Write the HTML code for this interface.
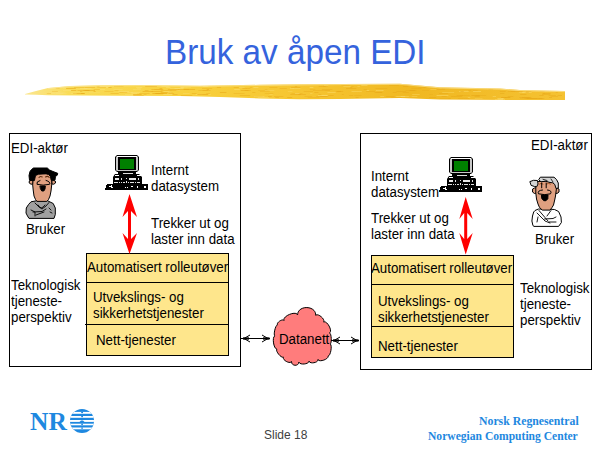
<!DOCTYPE html>
<html><head><meta charset="utf-8">
<style>
html,body{margin:0;padding:0;width:600px;height:450px;overflow:hidden;background:#fff;}
body{position:relative;font-family:"Liberation Sans",sans-serif;color:#000;}
.a{position:absolute;white-space:nowrap;font-size:13px;line-height:16px;}
.t{font-size:14px;line-height:16px;transform:scaleX(0.95);transform-origin:0 0;}
svg{position:absolute;left:0;top:0;}
</style></head><body>
<svg width="600" height="450" viewBox="0 0 600 450">
<defs>

</defs>
<!-- brush stroke -->
<linearGradient id="brush" x1="25" y1="0" x2="565" y2="0" gradientUnits="userSpaceOnUse"><stop offset="0" stop-color="#fbe690"/><stop offset="0.08" stop-color="#f9dc58"/><stop offset="0.3" stop-color="#f8d03c"/><stop offset="0.5" stop-color="#f6c632"/><stop offset="0.72" stop-color="#f0b822"/><stop offset="1" stop-color="#f5c232"/></linearGradient>
<path d="M25,94 L36,91 L48,88 L70,86 L100,85.3 L140,85 L200,85.7 L260,84.8 L300,84.3 L340,84 L400,83.7 L440,87.3 L500,88.5 L520,90 L565,91 L565,100 L520,100 L440,99.5 L400,98 L340,99 L300,99.3 L260,98.5 L220,97 L180,96 L120,95.8 L80,95.5 L48,95.3 L36,94.7 L25,94.5 Z" fill="url(#brush)"/>
<g stroke-width="1"><line x1="163.7" y1="91.5" x2="169.4" y2="91.5" stroke="#fde27a" stroke-opacity="0.41"/><line x1="74.1" y1="87.5" x2="84.4" y2="87.5" stroke="#e8a818" stroke-opacity="0.37"/><line x1="557.7" y1="95.5" x2="562.0" y2="95.5" stroke="#e8a818" stroke-opacity="0.49"/><line x1="118.3" y1="91.5" x2="129.0" y2="91.5" stroke="#fde27a" stroke-opacity="0.44"/><line x1="389.1" y1="85.5" x2="398.7" y2="85.5" stroke="#e8a818" stroke-opacity="0.39"/><line x1="56.1" y1="93.5" x2="62.9" y2="93.5" stroke="#fde27a" stroke-opacity="0.47"/><line x1="411.3" y1="96.5" x2="417.3" y2="96.5" stroke="#fde27a" stroke-opacity="0.36"/><line x1="526.5" y1="98.5" x2="529.5" y2="98.5" stroke="#e8a818" stroke-opacity="0.37"/><line x1="542.0" y1="94.5" x2="550.3" y2="94.5" stroke="#e8a818" stroke-opacity="0.45"/><line x1="240.7" y1="90.5" x2="248.5" y2="90.5" stroke="#e8a818" stroke-opacity="0.57"/><line x1="394.6" y1="96.5" x2="405.2" y2="96.5" stroke="#fde27a" stroke-opacity="0.42"/><line x1="124.8" y1="94.5" x2="136.5" y2="94.5" stroke="#fde27a" stroke-opacity="0.39"/><line x1="411.2" y1="88.5" x2="421.5" y2="88.5" stroke="#e8a818" stroke-opacity="0.39"/><line x1="73.0" y1="93.5" x2="84.9" y2="93.5" stroke="#e8a818" stroke-opacity="0.54"/><line x1="253.4" y1="87.5" x2="258.4" y2="87.5" stroke="#fde27a" stroke-opacity="0.47"/><line x1="63.0" y1="92.5" x2="65.4" y2="92.5" stroke="#fde27a" stroke-opacity="0.33"/><line x1="498.1" y1="99.5" x2="505.1" y2="99.5" stroke="#fde27a" stroke-opacity="0.33"/><line x1="80.0" y1="91.5" x2="82.3" y2="91.5" stroke="#e8a818" stroke-opacity="0.42"/><line x1="357.4" y1="86.5" x2="359.9" y2="86.5" stroke="#fde27a" stroke-opacity="0.33"/><line x1="538.5" y1="98.5" x2="544.3" y2="98.5" stroke="#e8a818" stroke-opacity="0.46"/><line x1="374.8" y1="92.5" x2="382.4" y2="92.5" stroke="#e8a818" stroke-opacity="0.58"/><line x1="303.7" y1="91.5" x2="312.9" y2="91.5" stroke="#e8a818" stroke-opacity="0.39"/><line x1="548.5" y1="95.5" x2="555.9" y2="95.5" stroke="#e8a818" stroke-opacity="0.42"/><line x1="341.6" y1="85.5" x2="349.7" y2="85.5" stroke="#e8a818" stroke-opacity="0.32"/><line x1="366.2" y1="91.5" x2="375.0" y2="91.5" stroke="#e8a818" stroke-opacity="0.51"/><line x1="423.8" y1="87.5" x2="426.4" y2="87.5" stroke="#e8a818" stroke-opacity="0.59"/><line x1="170.6" y1="90.5" x2="178.5" y2="90.5" stroke="#e8a818" stroke-opacity="0.41"/><line x1="202.6" y1="90.5" x2="210.5" y2="90.5" stroke="#e8a818" stroke-opacity="0.41"/><line x1="441.6" y1="88.5" x2="449.3" y2="88.5" stroke="#e8a818" stroke-opacity="0.39"/><line x1="155.7" y1="93.5" x2="160.1" y2="93.5" stroke="#e8a818" stroke-opacity="0.43"/><line x1="403.0" y1="86.5" x2="408.2" y2="86.5" stroke="#e8a818" stroke-opacity="0.55"/><line x1="268.0" y1="96.5" x2="271.7" y2="96.5" stroke="#e8a818" stroke-opacity="0.50"/><line x1="500.1" y1="93.5" x2="504.4" y2="93.5" stroke="#e8a818" stroke-opacity="0.46"/><line x1="139.2" y1="93.5" x2="149.6" y2="93.5" stroke="#e8a818" stroke-opacity="0.38"/><line x1="459.8" y1="95.5" x2="469.8" y2="95.5" stroke="#e8a818" stroke-opacity="0.34"/><line x1="191.8" y1="93.5" x2="196.5" y2="93.5" stroke="#e8a818" stroke-opacity="0.43"/><line x1="258.3" y1="90.5" x2="269.5" y2="90.5" stroke="#e8a818" stroke-opacity="0.30"/><line x1="530.5" y1="98.5" x2="542.4" y2="98.5" stroke="#e8a818" stroke-opacity="0.59"/><line x1="522.2" y1="92.5" x2="531.7" y2="92.5" stroke="#fde27a" stroke-opacity="0.42"/><line x1="309.9" y1="89.5" x2="315.3" y2="89.5" stroke="#e8a818" stroke-opacity="0.32"/><line x1="346.1" y1="88.5" x2="356.2" y2="88.5" stroke="#e8a818" stroke-opacity="0.57"/><line x1="400.7" y1="96.5" x2="411.7" y2="96.5" stroke="#fde27a" stroke-opacity="0.39"/><line x1="46.8" y1="93.5" x2="50.6" y2="93.5" stroke="#e8a818" stroke-opacity="0.50"/><line x1="313.0" y1="90.5" x2="324.4" y2="90.5" stroke="#e8a818" stroke-opacity="0.40"/><line x1="171.3" y1="94.5" x2="178.1" y2="94.5" stroke="#fde27a" stroke-opacity="0.34"/><line x1="142.6" y1="91.5" x2="152.8" y2="91.5" stroke="#e8a818" stroke-opacity="0.54"/><line x1="519.3" y1="97.5" x2="529.6" y2="97.5" stroke="#e8a818" stroke-opacity="0.49"/><line x1="488.5" y1="89.5" x2="493.2" y2="89.5" stroke="#e8a818" stroke-opacity="0.46"/><line x1="260.0" y1="91.5" x2="269.7" y2="91.5" stroke="#e8a818" stroke-opacity="0.32"/><line x1="106.0" y1="87.5" x2="108.7" y2="87.5" stroke="#fde27a" stroke-opacity="0.46"/><line x1="84.8" y1="90.5" x2="89.9" y2="90.5" stroke="#e8a818" stroke-opacity="0.41"/><line x1="376.4" y1="92.5" x2="382.0" y2="92.5" stroke="#e8a818" stroke-opacity="0.40"/><line x1="104.4" y1="91.5" x2="113.5" y2="91.5" stroke="#e8a818" stroke-opacity="0.32"/><line x1="132.8" y1="89.5" x2="140.9" y2="89.5" stroke="#fde27a" stroke-opacity="0.35"/><line x1="456.6" y1="95.5" x2="462.9" y2="95.5" stroke="#e8a818" stroke-opacity="0.45"/><line x1="405.5" y1="90.5" x2="414.4" y2="90.5" stroke="#e8a818" stroke-opacity="0.37"/><line x1="318.6" y1="94.5" x2="321.4" y2="94.5" stroke="#e8a818" stroke-opacity="0.43"/><line x1="497.4" y1="98.5" x2="503.2" y2="98.5" stroke="#fde27a" stroke-opacity="0.45"/><line x1="176.3" y1="90.5" x2="179.6" y2="90.5" stroke="#fde27a" stroke-opacity="0.42"/><line x1="501.4" y1="97.5" x2="510.1" y2="97.5" stroke="#e8a818" stroke-opacity="0.47"/><line x1="93.6" y1="91.5" x2="95.7" y2="91.5" stroke="#e8a818" stroke-opacity="0.53"/><line x1="63.0" y1="88.5" x2="66.0" y2="88.5" stroke="#fde27a" stroke-opacity="0.29"/><line x1="52.2" y1="93.5" x2="55.4" y2="93.5" stroke="#fde27a" stroke-opacity="0.42"/><line x1="474.8" y1="98.5" x2="482.6" y2="98.5" stroke="#fde27a" stroke-opacity="0.26"/><line x1="439.1" y1="93.5" x2="448.2" y2="93.5" stroke="#e8a818" stroke-opacity="0.52"/><line x1="526.0" y1="91.5" x2="531.2" y2="91.5" stroke="#e8a818" stroke-opacity="0.55"/><line x1="165.9" y1="87.5" x2="170.4" y2="87.5" stroke="#fde27a" stroke-opacity="0.44"/><line x1="244.7" y1="90.5" x2="250.7" y2="90.5" stroke="#e8a818" stroke-opacity="0.43"/><line x1="83.3" y1="90.5" x2="95.0" y2="90.5" stroke="#e8a818" stroke-opacity="0.52"/><line x1="123.5" y1="92.5" x2="133.1" y2="92.5" stroke="#fde27a" stroke-opacity="0.38"/><line x1="291.5" y1="93.5" x2="302.5" y2="93.5" stroke="#e8a818" stroke-opacity="0.33"/><line x1="429.0" y1="97.5" x2="436.2" y2="97.5" stroke="#e8a818" stroke-opacity="0.52"/><line x1="136.8" y1="88.5" x2="140.8" y2="88.5" stroke="#fde27a" stroke-opacity="0.33"/><line x1="160.8" y1="92.5" x2="172.3" y2="92.5" stroke="#e8a818" stroke-opacity="0.51"/><line x1="254.9" y1="96.5" x2="262.7" y2="96.5" stroke="#e8a818" stroke-opacity="0.37"/><line x1="52.0" y1="91.5" x2="57.9" y2="91.5" stroke="#e8a818" stroke-opacity="0.41"/><line x1="207.5" y1="94.5" x2="210.9" y2="94.5" stroke="#fde27a" stroke-opacity="0.37"/><line x1="351.5" y1="91.5" x2="361.8" y2="91.5" stroke="#fde27a" stroke-opacity="0.39"/><line x1="290.3" y1="94.5" x2="300.8" y2="94.5" stroke="#e8a818" stroke-opacity="0.52"/><line x1="539.3" y1="95.5" x2="543.6" y2="95.5" stroke="#e8a818" stroke-opacity="0.52"/><line x1="391.2" y1="97.5" x2="401.7" y2="97.5" stroke="#e8a818" stroke-opacity="0.36"/><line x1="174.5" y1="88.5" x2="183.5" y2="88.5" stroke="#fde27a" stroke-opacity="0.47"/><line x1="172.6" y1="94.5" x2="177.7" y2="94.5" stroke="#e8a818" stroke-opacity="0.52"/><line x1="84.7" y1="87.5" x2="95.0" y2="87.5" stroke="#e8a818" stroke-opacity="0.41"/><line x1="341.8" y1="94.5" x2="343.8" y2="94.5" stroke="#e8a818" stroke-opacity="0.43"/><line x1="292.7" y1="88.5" x2="300.5" y2="88.5" stroke="#fde27a" stroke-opacity="0.35"/><line x1="323.1" y1="86.5" x2="327.8" y2="86.5" stroke="#e8a818" stroke-opacity="0.33"/><line x1="501.3" y1="98.5" x2="504.3" y2="98.5" stroke="#fde27a" stroke-opacity="0.34"/><line x1="441.7" y1="96.5" x2="446.6" y2="96.5" stroke="#e8a818" stroke-opacity="0.50"/><line x1="459.1" y1="91.5" x2="468.7" y2="91.5" stroke="#fde27a" stroke-opacity="0.42"/><line x1="318.8" y1="86.5" x2="325.7" y2="86.5" stroke="#e8a818" stroke-opacity="0.52"/><line x1="392.8" y1="92.5" x2="396.7" y2="92.5" stroke="#e8a818" stroke-opacity="0.49"/><line x1="133.1" y1="94.5" x2="141.7" y2="94.5" stroke="#e8a818" stroke-opacity="0.58"/><line x1="113.5" y1="89.5" x2="122.7" y2="89.5" stroke="#fde27a" stroke-opacity="0.39"/><line x1="376.7" y1="90.5" x2="381.8" y2="90.5" stroke="#e8a818" stroke-opacity="0.32"/><line x1="412.2" y1="94.5" x2="419.7" y2="94.5" stroke="#fde27a" stroke-opacity="0.34"/><line x1="178.2" y1="89.5" x2="189.0" y2="89.5" stroke="#e8a818" stroke-opacity="0.45"/><line x1="168.5" y1="93.5" x2="174.1" y2="93.5" stroke="#e8a818" stroke-opacity="0.42"/><line x1="321.6" y1="95.5" x2="327.1" y2="95.5" stroke="#fde27a" stroke-opacity="0.28"/><line x1="180.7" y1="87.5" x2="183.8" y2="87.5" stroke="#fde27a" stroke-opacity="0.43"/><line x1="136.1" y1="87.5" x2="142.3" y2="87.5" stroke="#fde27a" stroke-opacity="0.45"/><line x1="429.3" y1="94.5" x2="432.8" y2="94.5" stroke="#e8a818" stroke-opacity="0.36"/><line x1="314.4" y1="92.5" x2="318.4" y2="92.5" stroke="#e8a818" stroke-opacity="0.53"/><line x1="55.6" y1="93.5" x2="66.6" y2="93.5" stroke="#fde27a" stroke-opacity="0.35"/><line x1="327.4" y1="92.5" x2="335.7" y2="92.5" stroke="#fde27a" stroke-opacity="0.42"/><line x1="195.7" y1="94.5" x2="202.5" y2="94.5" stroke="#fde27a" stroke-opacity="0.43"/><line x1="41.2" y1="93.5" x2="49.9" y2="93.5" stroke="#fde27a" stroke-opacity="0.38"/><line x1="279.5" y1="88.5" x2="286.8" y2="88.5" stroke="#e8a818" stroke-opacity="0.45"/><line x1="375.9" y1="90.5" x2="383.6" y2="90.5" stroke="#fde27a" stroke-opacity="0.47"/><line x1="110.5" y1="93.5" x2="118.7" y2="93.5" stroke="#e8a818" stroke-opacity="0.41"/><line x1="161.4" y1="86.5" x2="168.8" y2="86.5" stroke="#fde27a" stroke-opacity="0.33"/><line x1="492.7" y1="96.5" x2="496.0" y2="96.5" stroke="#fde27a" stroke-opacity="0.40"/><line x1="522.0" y1="97.5" x2="531.4" y2="97.5" stroke="#e8a818" stroke-opacity="0.54"/><line x1="524.5" y1="98.5" x2="530.9" y2="98.5" stroke="#e8a818" stroke-opacity="0.45"/><line x1="96.7" y1="86.5" x2="99.5" y2="86.5" stroke="#e8a818" stroke-opacity="0.35"/><line x1="298.5" y1="94.5" x2="305.9" y2="94.5" stroke="#e8a818" stroke-opacity="0.49"/><line x1="198.4" y1="90.5" x2="208.0" y2="90.5" stroke="#e8a818" stroke-opacity="0.35"/><line x1="507.7" y1="96.5" x2="513.4" y2="96.5" stroke="#e8a818" stroke-opacity="0.46"/><line x1="350.2" y1="87.5" x2="352.2" y2="87.5" stroke="#e8a818" stroke-opacity="0.53"/><line x1="114.6" y1="90.5" x2="118.6" y2="90.5" stroke="#e8a818" stroke-opacity="0.35"/><line x1="249.9" y1="87.5" x2="252.2" y2="87.5" stroke="#e8a818" stroke-opacity="0.35"/><line x1="294.9" y1="86.5" x2="297.2" y2="86.5" stroke="#e8a818" stroke-opacity="0.42"/><line x1="405.8" y1="85.5" x2="411.8" y2="85.5" stroke="#e8a818" stroke-opacity="0.31"/><line x1="542.1" y1="93.5" x2="545.0" y2="93.5" stroke="#e8a818" stroke-opacity="0.35"/><line x1="363.7" y1="89.5" x2="366.9" y2="89.5" stroke="#e8a818" stroke-opacity="0.52"/><line x1="183.0" y1="93.5" x2="189.7" y2="93.5" stroke="#fde27a" stroke-opacity="0.33"/><line x1="170.0" y1="88.5" x2="180.1" y2="88.5" stroke="#fde27a" stroke-opacity="0.34"/><line x1="88.7" y1="92.5" x2="100.4" y2="92.5" stroke="#fde27a" stroke-opacity="0.25"/><line x1="55.8" y1="88.5" x2="59.5" y2="88.5" stroke="#e8a818" stroke-opacity="0.32"/><line x1="380.2" y1="96.5" x2="384.2" y2="96.5" stroke="#fde27a" stroke-opacity="0.37"/><line x1="457.9" y1="98.5" x2="469.3" y2="98.5" stroke="#e8a818" stroke-opacity="0.39"/><line x1="355.6" y1="97.5" x2="358.5" y2="97.5" stroke="#e8a818" stroke-opacity="0.55"/><line x1="99.6" y1="89.5" x2="105.0" y2="89.5" stroke="#fde27a" stroke-opacity="0.48"/><line x1="130.8" y1="92.5" x2="140.1" y2="92.5" stroke="#fde27a" stroke-opacity="0.39"/><line x1="520.2" y1="94.5" x2="526.4" y2="94.5" stroke="#e8a818" stroke-opacity="0.53"/><line x1="289.9" y1="88.5" x2="293.6" y2="88.5" stroke="#fde27a" stroke-opacity="0.40"/><line x1="409.5" y1="90.5" x2="416.4" y2="90.5" stroke="#e8a818" stroke-opacity="0.51"/><line x1="51.9" y1="91.5" x2="61.5" y2="91.5" stroke="#fde27a" stroke-opacity="0.27"/><line x1="163.3" y1="94.5" x2="171.8" y2="94.5" stroke="#fde27a" stroke-opacity="0.47"/><line x1="274.0" y1="96.5" x2="283.3" y2="96.5" stroke="#e8a818" stroke-opacity="0.41"/><line x1="77.5" y1="90.5" x2="89.0" y2="90.5" stroke="#e8a818" stroke-opacity="0.47"/><line x1="97.3" y1="87.5" x2="105.8" y2="87.5" stroke="#e8a818" stroke-opacity="0.31"/><line x1="119.4" y1="92.5" x2="127.2" y2="92.5" stroke="#e8a818" stroke-opacity="0.37"/><line x1="543.0" y1="93.5" x2="550.6" y2="93.5" stroke="#e8a818" stroke-opacity="0.53"/><line x1="354.3" y1="95.5" x2="361.6" y2="95.5" stroke="#e8a818" stroke-opacity="0.35"/><line x1="81.1" y1="93.5" x2="84.3" y2="93.5" stroke="#e8a818" stroke-opacity="0.59"/><line x1="143.6" y1="94.5" x2="146.5" y2="94.5" stroke="#e8a818" stroke-opacity="0.37"/><line x1="471.3" y1="95.5" x2="479.7" y2="95.5" stroke="#e8a818" stroke-opacity="0.56"/><line x1="219.9" y1="92.5" x2="226.4" y2="92.5" stroke="#e8a818" stroke-opacity="0.55"/><line x1="349.1" y1="95.5" x2="353.1" y2="95.5" stroke="#e8a818" stroke-opacity="0.44"/><line x1="418.6" y1="87.5" x2="424.0" y2="87.5" stroke="#e8a818" stroke-opacity="0.32"/><line x1="327.4" y1="95.5" x2="333.6" y2="95.5" stroke="#e8a818" stroke-opacity="0.48"/><line x1="151.4" y1="89.5" x2="163.3" y2="89.5" stroke="#e8a818" stroke-opacity="0.43"/><line x1="83.8" y1="88.5" x2="87.4" y2="88.5" stroke="#fde27a" stroke-opacity="0.43"/><line x1="494.9" y1="99.5" x2="503.0" y2="99.5" stroke="#fde27a" stroke-opacity="0.38"/><line x1="257.7" y1="97.5" x2="268.8" y2="97.5" stroke="#fde27a" stroke-opacity="0.37"/><line x1="442.2" y1="92.5" x2="454.2" y2="92.5" stroke="#fde27a" stroke-opacity="0.32"/><line x1="525.8" y1="92.5" x2="528.7" y2="92.5" stroke="#e8a818" stroke-opacity="0.39"/><line x1="310.1" y1="93.5" x2="312.5" y2="93.5" stroke="#fde27a" stroke-opacity="0.32"/><line x1="264.8" y1="90.5" x2="274.3" y2="90.5" stroke="#fde27a" stroke-opacity="0.32"/><line x1="93.7" y1="89.5" x2="99.9" y2="89.5" stroke="#e8a818" stroke-opacity="0.35"/><line x1="436.6" y1="95.5" x2="448.4" y2="95.5" stroke="#fde27a" stroke-opacity="0.47"/><line x1="233.7" y1="87.5" x2="238.9" y2="87.5" stroke="#e8a818" stroke-opacity="0.46"/><line x1="321.9" y1="89.5" x2="332.4" y2="89.5" stroke="#e8a818" stroke-opacity="0.44"/><line x1="501.1" y1="97.5" x2="506.1" y2="97.5" stroke="#e8a818" stroke-opacity="0.54"/><line x1="45.2" y1="90.5" x2="52.5" y2="90.5" stroke="#fde27a" stroke-opacity="0.29"/><line x1="66.1" y1="88.5" x2="75.8" y2="88.5" stroke="#e8a818" stroke-opacity="0.59"/><line x1="448.5" y1="98.5" x2="450.8" y2="98.5" stroke="#e8a818" stroke-opacity="0.30"/><line x1="264.8" y1="89.5" x2="267.3" y2="89.5" stroke="#e8a818" stroke-opacity="0.33"/><line x1="202.0" y1="88.5" x2="212.1" y2="88.5" stroke="#e8a818" stroke-opacity="0.38"/><line x1="62.9" y1="90.5" x2="71.2" y2="90.5" stroke="#fde27a" stroke-opacity="0.48"/><line x1="460.5" y1="91.5" x2="463.8" y2="91.5" stroke="#e8a818" stroke-opacity="0.54"/><line x1="304.6" y1="96.5" x2="312.1" y2="96.5" stroke="#e8a818" stroke-opacity="0.35"/><line x1="48.9" y1="92.5" x2="59.8" y2="92.5" stroke="#fde27a" stroke-opacity="0.37"/><line x1="386.1" y1="96.5" x2="396.2" y2="96.5" stroke="#e8a818" stroke-opacity="0.42"/><line x1="309.6" y1="87.5" x2="313.4" y2="87.5" stroke="#fde27a" stroke-opacity="0.50"/><line x1="324.5" y1="90.5" x2="330.0" y2="90.5" stroke="#e8a818" stroke-opacity="0.54"/><line x1="275.3" y1="97.5" x2="278.9" y2="97.5" stroke="#e8a818" stroke-opacity="0.46"/><line x1="254.2" y1="96.5" x2="264.5" y2="96.5" stroke="#fde27a" stroke-opacity="0.40"/><line x1="55.9" y1="92.5" x2="63.4" y2="92.5" stroke="#fde27a" stroke-opacity="0.32"/><line x1="408.9" y1="96.5" x2="411.9" y2="96.5" stroke="#e8a818" stroke-opacity="0.41"/><line x1="307.7" y1="97.5" x2="319.3" y2="97.5" stroke="#e8a818" stroke-opacity="0.36"/><line x1="518.8" y1="92.5" x2="524.6" y2="92.5" stroke="#fde27a" stroke-opacity="0.33"/><line x1="180.9" y1="95.5" x2="192.3" y2="95.5" stroke="#e8a818" stroke-opacity="0.42"/><line x1="186.6" y1="87.5" x2="191.1" y2="87.5" stroke="#fde27a" stroke-opacity="0.27"/><line x1="159.5" y1="88.5" x2="162.3" y2="88.5" stroke="#e8a818" stroke-opacity="0.52"/><line x1="475.9" y1="95.5" x2="486.1" y2="95.5" stroke="#e8a818" stroke-opacity="0.38"/><line x1="539.8" y1="91.5" x2="544.5" y2="91.5" stroke="#e8a818" stroke-opacity="0.38"/><line x1="324.0" y1="85.5" x2="328.3" y2="85.5" stroke="#fde27a" stroke-opacity="0.29"/><line x1="510.9" y1="91.5" x2="522.8" y2="91.5" stroke="#e8a818" stroke-opacity="0.49"/><line x1="114.0" y1="86.5" x2="123.5" y2="86.5" stroke="#e8a818" stroke-opacity="0.36"/><line x1="467.8" y1="97.5" x2="470.3" y2="97.5" stroke="#fde27a" stroke-opacity="0.38"/><line x1="238.8" y1="87.5" x2="244.7" y2="87.5" stroke="#fde27a" stroke-opacity="0.32"/><line x1="108.3" y1="87.5" x2="111.6" y2="87.5" stroke="#e8a818" stroke-opacity="0.57"/><line x1="80.0" y1="88.5" x2="91.4" y2="88.5" stroke="#fde27a" stroke-opacity="0.49"/><line x1="167.9" y1="89.5" x2="179.4" y2="89.5" stroke="#e8a818" stroke-opacity="0.51"/><line x1="202.9" y1="86.5" x2="208.4" y2="86.5" stroke="#fde27a" stroke-opacity="0.45"/><line x1="335.8" y1="91.5" x2="343.2" y2="91.5" stroke="#e8a818" stroke-opacity="0.46"/><line x1="473.1" y1="91.5" x2="481.1" y2="91.5" stroke="#fde27a" stroke-opacity="0.46"/><line x1="133.3" y1="95.5" x2="143.7" y2="95.5" stroke="#e8a818" stroke-opacity="0.38"/><line x1="145.2" y1="86.5" x2="157.0" y2="86.5" stroke="#e8a818" stroke-opacity="0.56"/><line x1="99.6" y1="86.5" x2="110.3" y2="86.5" stroke="#fde27a" stroke-opacity="0.50"/><line x1="396.4" y1="91.5" x2="406.1" y2="91.5" stroke="#e8a818" stroke-opacity="0.46"/><line x1="269.4" y1="87.5" x2="277.4" y2="87.5" stroke="#e8a818" stroke-opacity="0.45"/><line x1="234.2" y1="89.5" x2="239.8" y2="89.5" stroke="#fde27a" stroke-opacity="0.50"/><line x1="526.8" y1="98.5" x2="537.2" y2="98.5" stroke="#e8a818" stroke-opacity="0.59"/><line x1="180.3" y1="87.5" x2="187.3" y2="87.5" stroke="#fde27a" stroke-opacity="0.34"/><line x1="375.5" y1="88.5" x2="387.2" y2="88.5" stroke="#e8a818" stroke-opacity="0.44"/><line x1="316.3" y1="96.5" x2="328.2" y2="96.5" stroke="#e8a818" stroke-opacity="0.43"/><line x1="361.3" y1="85.5" x2="367.5" y2="85.5" stroke="#fde27a" stroke-opacity="0.44"/><line x1="70.9" y1="93.5" x2="76.7" y2="93.5" stroke="#fde27a" stroke-opacity="0.34"/><line x1="151.6" y1="91.5" x2="162.5" y2="91.5" stroke="#e8a818" stroke-opacity="0.56"/><line x1="409.9" y1="90.5" x2="414.9" y2="90.5" stroke="#e8a818" stroke-opacity="0.42"/><line x1="233.7" y1="93.5" x2="244.5" y2="93.5" stroke="#e8a818" stroke-opacity="0.34"/><line x1="154.4" y1="89.5" x2="162.5" y2="89.5" stroke="#e8a818" stroke-opacity="0.32"/><line x1="206.7" y1="89.5" x2="209.0" y2="89.5" stroke="#e8a818" stroke-opacity="0.58"/><line x1="317.9" y1="95.5" x2="328.2" y2="95.5" stroke="#fde27a" stroke-opacity="0.48"/><line x1="269.5" y1="94.5" x2="272.7" y2="94.5" stroke="#fde27a" stroke-opacity="0.34"/><line x1="287.2" y1="97.5" x2="292.1" y2="97.5" stroke="#e8a818" stroke-opacity="0.55"/><line x1="351.4" y1="86.5" x2="353.7" y2="86.5" stroke="#e8a818" stroke-opacity="0.30"/><line x1="472.9" y1="90.5" x2="477.6" y2="90.5" stroke="#e8a818" stroke-opacity="0.45"/><line x1="264.8" y1="93.5" x2="273.4" y2="93.5" stroke="#e8a818" stroke-opacity="0.33"/><line x1="549.1" y1="97.5" x2="552.0" y2="97.5" stroke="#e8a818" stroke-opacity="0.53"/><line x1="555.7" y1="92.5" x2="557.8" y2="92.5" stroke="#e8a818" stroke-opacity="0.43"/><line x1="505.1" y1="97.5" x2="510.4" y2="97.5" stroke="#e8a818" stroke-opacity="0.47"/><line x1="499.8" y1="91.5" x2="505.7" y2="91.5" stroke="#e8a818" stroke-opacity="0.49"/><line x1="53.8" y1="94.5" x2="61.0" y2="94.5" stroke="#fde27a" stroke-opacity="0.27"/><line x1="160.8" y1="90.5" x2="171.3" y2="90.5" stroke="#e8a818" stroke-opacity="0.39"/><line x1="550.7" y1="96.5" x2="558.0" y2="96.5" stroke="#e8a818" stroke-opacity="0.39"/><line x1="507.9" y1="91.5" x2="515.2" y2="91.5" stroke="#e8a818" stroke-opacity="0.41"/><line x1="439.7" y1="98.5" x2="450.3" y2="98.5" stroke="#e8a818" stroke-opacity="0.36"/><line x1="71.1" y1="90.5" x2="76.3" y2="90.5" stroke="#e8a818" stroke-opacity="0.56"/><line x1="152.4" y1="93.5" x2="163.7" y2="93.5" stroke="#e8a818" stroke-opacity="0.57"/><line x1="246.5" y1="88.5" x2="250.4" y2="88.5" stroke="#e8a818" stroke-opacity="0.45"/><line x1="239.8" y1="95.5" x2="250.2" y2="95.5" stroke="#e8a818" stroke-opacity="0.42"/><line x1="242.4" y1="88.5" x2="246.9" y2="88.5" stroke="#e8a818" stroke-opacity="0.51"/><line x1="216.9" y1="87.5" x2="221.1" y2="87.5" stroke="#e8a818" stroke-opacity="0.47"/><line x1="167.7" y1="92.5" x2="171.8" y2="92.5" stroke="#fde27a" stroke-opacity="0.40"/><line x1="131.4" y1="93.5" x2="137.3" y2="93.5" stroke="#fde27a" stroke-opacity="0.40"/><line x1="366.6" y1="90.5" x2="369.2" y2="90.5" stroke="#fde27a" stroke-opacity="0.46"/><line x1="294.9" y1="93.5" x2="299.6" y2="93.5" stroke="#fde27a" stroke-opacity="0.42"/><line x1="155.4" y1="93.5" x2="167.2" y2="93.5" stroke="#e8a818" stroke-opacity="0.60"/><line x1="291.2" y1="87.5" x2="300.4" y2="87.5" stroke="#e8a818" stroke-opacity="0.52"/><line x1="343.4" y1="86.5" x2="350.7" y2="86.5" stroke="#fde27a" stroke-opacity="0.37"/><line x1="320.4" y1="96.5" x2="326.9" y2="96.5" stroke="#e8a818" stroke-opacity="0.47"/><line x1="468.4" y1="90.5" x2="471.3" y2="90.5" stroke="#e8a818" stroke-opacity="0.47"/><line x1="197.4" y1="94.5" x2="208.3" y2="94.5" stroke="#e8a818" stroke-opacity="0.60"/><line x1="474.7" y1="96.5" x2="479.6" y2="96.5" stroke="#e8a818" stroke-opacity="0.50"/><line x1="422.3" y1="90.5" x2="429.0" y2="90.5" stroke="#e8a818" stroke-opacity="0.37"/><line x1="402.8" y1="92.5" x2="408.6" y2="92.5" stroke="#e8a818" stroke-opacity="0.47"/><line x1="206.2" y1="93.5" x2="210.0" y2="93.5" stroke="#e8a818" stroke-opacity="0.36"/><line x1="252.3" y1="92.5" x2="255.4" y2="92.5" stroke="#e8a818" stroke-opacity="0.44"/><line x1="144.8" y1="90.5" x2="148.5" y2="90.5" stroke="#e8a818" stroke-opacity="0.46"/><line x1="520.1" y1="98.5" x2="527.2" y2="98.5" stroke="#e8a818" stroke-opacity="0.32"/><line x1="183.7" y1="89.5" x2="195.1" y2="89.5" stroke="#e8a818" stroke-opacity="0.58"/><line x1="287.9" y1="91.5" x2="292.5" y2="91.5" stroke="#fde27a" stroke-opacity="0.30"/><line x1="337.1" y1="91.5" x2="341.1" y2="91.5" stroke="#e8a818" stroke-opacity="0.60"/><line x1="451.2" y1="96.5" x2="462.2" y2="96.5" stroke="#e8a818" stroke-opacity="0.51"/><line x1="430.3" y1="89.5" x2="436.8" y2="89.5" stroke="#fde27a" stroke-opacity="0.33"/><line x1="436.4" y1="89.5" x2="445.1" y2="89.5" stroke="#e8a818" stroke-opacity="0.45"/></g>
<path d="M48,88.6 L70,86.6 L100,85.9 L140,85.6 L200,86.3 L260,85.4 L300,84.9 L340,84.6 L400,84.3 L440,87.9 L500,89.1 L520,90.6 L565,91.6" stroke="#fce7a0" stroke-width="1" fill="none" stroke-opacity="0.7"/>

<!-- outer boxes -->
<rect x="9.5" y="133.5" width="231" height="233" fill="none" stroke="#000" stroke-width="1"/>
<rect x="360.5" y="133.5" width="231" height="236" fill="none" stroke="#000" stroke-width="1"/>

<!-- yellow boxes -->
<rect x="86.5" y="253.5" width="142" height="102" fill="#fee68c" stroke="#000" stroke-width="1"/>
<line x1="86" y1="282.5" x2="229" y2="282.5" stroke="#000"/>
<line x1="85" y1="324.5" x2="229" y2="324.5" stroke="#000"/>
<rect x="371.5" y="255.5" width="142" height="102" fill="#fee68c" stroke="#000" stroke-width="1"/>
<line x1="371" y1="284.5" x2="514" y2="284.5" stroke="#000"/>
<line x1="371" y1="326.5" x2="514" y2="326.5" stroke="#000"/>

<!-- red arrows -->
<path d="M129.5,194 L137,217 L131,211 L131,239 L137,233 L129.5,254 L122.5,233 L128,239 L128,211 L122.5,217 Z" fill="#ff0000"/>
<path d="M465.7,197 L472.7,219 L467.2,213 L467.2,239 L472.7,233 L465.7,254.5 L459.3,233 L464.2,239 L464.2,213 L459.3,219 Z" fill="#ff0000"/>

<!-- cloud -->
<path d="M297.6,314.8 C297.9,304.8 316.0,305.3 315.7,315.3 C317.9,312.8 325.7,319.5 323.5,322.0 C327.0,320.1 333.0,331.1 329.5,333.0 C331.5,332.9 332.0,343.9 330.0,344.0 C332.6,344.4 330.6,356.4 328.0,356.0 C329.1,359.1 319.1,362.6 318.0,359.5 C318.5,362.8 309.5,364.3 309.0,361.0 C309.3,364.3 299.3,365.3 299.0,362.0 C298.7,366.7 291.2,366.2 291.5,361.5 C289.9,364.4 281.9,359.9 283.5,357.0 C281.4,358.7 274.9,350.7 277.0,349.0 C273.7,349.5 271.7,336.5 275.0,336.0 C273.0,335.6 275.5,324.6 277.5,325.0 C276.0,322.8 282.5,318.3 284.0,320.5 C282.2,316.2 295.8,310.5 297.6,314.8 Z" fill="#ff7c7c" stroke="#000" stroke-width="1"/>


<!-- computer icon -->
<g id="pc" shape-rendering="crispEdges">
<path d="M117,155 L137,155 L139,157 L139,170 L137,172 L117,172 L115,170 L115,157 Z" fill="#000" shape-rendering="auto"/>
<rect x="116" y="156" width="22" height="15" rx="1.5" fill="#c8c8c8" shape-rendering="auto"/>
<rect x="117" y="156" width="20" height="1" fill="#fff"/>
<rect x="118" y="157" width="18" height="13" fill="#000"/>
<rect x="120" y="159" width="14" height="10" fill="#008000"/>
<rect x="118" y="172" width="18" height="2" fill="#000"/>
<rect x="123" y="173" width="10" height="1" fill="#e0e0e0"/>
<path d="M115,174 L139,174 L142,177 L142,184 L113,184 L113,177 Z" fill="#000" shape-rendering="auto"/>
<rect x="115" y="175" width="4" height="1" fill="#fff"/>
<rect x="137" y="175" width="4" height="1" fill="#fff"/>
<rect x="115" y="178" width="4" height="2" fill="#e8e8e8"/>
<rect x="121" y="178" width="1" height="2" fill="#e8e8e8"/>
<rect x="126" y="178" width="1" height="1" fill="#e8e8e8"/>
<rect x="126" y="181" width="1" height="1" fill="#e8e8e8"/>
<rect x="129" y="178" width="7" height="2" fill="#e8e8e8"/>
<rect x="138" y="178" width="1" height="2" fill="#e8e8e8"/>
<line x1="114" y1="182.5" x2="140" y2="182.5" stroke="#e0e0e0" stroke-dasharray="1.5 0.8"/>
<path d="M107,184 L148,184 L148,190 L105,190 Z" fill="#000"/>
<rect x="109" y="186" width="2" height="1" fill="#fff"/>
<rect x="111" y="185" width="1" height="3" fill="#fff"/>
<rect x="112" y="187" width="1" height="1" fill="#fff"/>
<rect x="125" y="187" width="1" height="1" fill="#fff"/>
<rect x="127" y="187" width="1" height="1" fill="#fff"/>
<rect x="131" y="186" width="2" height="1" fill="#fff"/>
<rect x="137" y="186" width="1" height="2" fill="#fff"/>
<rect x="144" y="186" width="2" height="2" fill="#fff"/>
</g>
<use href="#pc" transform="translate(334,2)"/>

<!-- person left -->
<g stroke="#000" stroke-width="1" stroke-linejoin="round" stroke-linecap="round">
<path d="M37,200.7 L31,201.8 L28.5,204.5 L26.3,208 L26,213 L27.5,216 L29,218.4 L54,218.4 L55.3,214.5 L55.3,208 L53.2,203.5 L47.5,200.7 Z" fill="#a0a0a0"/>
<path d="M35,203 L39,207 L42,209 L46,206 L49,202.5 M38,205 Q41,211 45,205 M31,210 L35,212 L35,216 M33,212 L42,211.5 L46,209 M36,215 L44,212 M49,208 L51,210 M50,212 L52,213" fill="none" stroke-width="0.9"/>
<path d="M31.3,180.3 L29.3,181 L29.2,183 L31,184.2 L33,184 L33,180.5 Z" fill="#e0a080"/>
<path d="M53.3,180.3 L55.3,181 L55.5,183 L53.8,184.2 L51.8,184 L51.8,180.5 Z" fill="#e0a080"/>
<path d="M34.5,173.5 L50.5,173.5 L51.7,180 L51.7,185 L51,191 L50,196 L48.5,199.5 L46.8,201.4 L37,201.4 L35.5,199.5 L34,196 L33.2,190 L32.7,185 L33.2,178 Z" fill="#e0a080"/>
<path d="M29.5,180 L29,175.5 L30,171.5 L31.5,169.5 L33.5,168 L47.3,168 L49.5,170 L53,171.5 L57.7,173.3 L57.2,175.3 L55.5,176.3 L55,180 L51.2,180.2 L50.5,176.5 L48.5,174.5 L46,173.8 L38.5,174.2 L35.5,175.5 L34.5,180.2 Z" fill="#000"/>
<path d="M39,177.5 Q40.5,175.8 42.2,177 M45.5,177 Q47.5,175.5 49.2,177.3" fill="none" stroke="#603010" stroke-width="1.1"/>
<path d="M40,180.5 Q36,181.5 37,184.3 Q43,186 49.5,184.3 Q51,182 46,180.4" fill="none"/>
<path d="M40.3,186 L45.3,186 L45,189 L43.8,191 L41.8,191 L40.6,189 Z" fill="#000"/>
</g>

<!-- person right (doctor) -->
<g stroke="#000" stroke-width="1" stroke-linejoin="round" stroke-linecap="round">
<path d="M538,209.2 L535,210.5 L533.7,212 L532.5,216 L531.9,221 L532.8,225 L533.7,226.4 L558.6,226.4 L561.4,222.5 L561,217 L558.6,211.5 L554.5,209.5 L549.5,209.2 Z" fill="#fff"/>
<path d="M539,210.5 L545,217.5 L548,221 M551,210.5 L547,216 M537,213 L545,221 L550,223 M544.5,219 L553,218.5 L556,217 M549,222 L556,222 M538,217 L537,222" fill="none" stroke-width="0.9"/>
<path d="M534.5,188 L532.6,189 L532.5,192 L534.5,193.5 L536.5,193 L536.5,188.5 Z" fill="#e0a080"/>
<path d="M557,188 L559,189 L559,192 L557,193.5 L555,193 L555,188.5 Z" fill="#e0a080"/>
<path d="M536,181.5 L556,181.5 L556.5,188 L555.5,196 L554.7,200 L553.5,205 L552,207.5 L550,210.1 L542.2,210.1 L539.4,207.2 L538,204 L536.5,199 L535.8,193 L535.8,186 Z" fill="#e0a080"/>
<path d="M540.7,177.2 L554,177.2 L556.5,179.5 L558.3,183 L558.3,188 L556,188.5 L554.8,184.5 L552.8,182.8 L550,182.5 L545.5,181.2 L541,181.8 L539,180 Z" fill="#d4d4d4"/>
<path d="M530.2,181.5 L533.5,180.3 L537.5,180.5 L538,184 L536.8,186.7 L534.5,186.5 L531.5,185.5 Z" fill="#d4d4d4"/>
<path d="M543,179.3 L547,180.5 M551,179 L553,182" fill="none" stroke-width="0.8"/>
<path d="M539.5,184 Q541,182.5 543,184 M546.5,184 Q548.5,182.5 550.5,184" fill="none" stroke="#a05020" stroke-width="1"/>
<path d="M541.7,183 L541.7,187.8 M546.2,183 L546.2,187.8" fill="none"/>
<path d="M542.5,190 Q537,190.5 538.5,193.8 Q545,195.5 550.5,193.8 Q552.5,190.5 547.5,190" fill="none"/>
<path d="M541.8,195 L548,195 L547.8,198.8 L546,200.7 L543.8,200.7 L542,198.8 Z" fill="#000"/>
</g>

<!-- NR circle logo -->
<defs><clipPath id="nrc"><circle cx="82" cy="421" r="12"/></clipPath></defs>
<g clip-path="url(#nrc)">
<rect x="69" y="408.5" width="26" height="25" fill="#1e88e0"/>
<rect x="69" y="411.9" width="26" height="1.9" fill="#fff"/>
<rect x="69" y="416" width="26" height="1.8" fill="#fff"/>
<rect x="69" y="420" width="26" height="1.9" fill="#fff"/>
<rect x="69" y="423.7" width="26" height="1.6" fill="#fff"/>
<rect x="69" y="427.5" width="26" height="1.8" fill="#fff"/>
<rect x="81.2" y="411.9" width="1.8" height="1.2" fill="#1e88e0"/>
<rect x="81.2" y="416" width="1.8" height="1.2" fill="#1e88e0"/>
<path d="M79.5,421.9 L81,420.4 L83,420.4 L84.5,421.9 Z" fill="#1e88e0"/>
<rect x="81.2" y="423.7" width="1.8" height="1.2" fill="#1e88e0"/>
<rect x="81.2" y="427.5" width="1.8" height="1.2" fill="#1e88e0"/>
</g>

<!-- small black arrows -->
<g stroke="#000" fill="none">
<line x1="241" y1="338.5" x2="270" y2="338.5" stroke-width="1"/>
<line x1="243" y1="338.5" x2="249" y2="338.5" stroke-width="2.3"/>
<line x1="263" y1="338.5" x2="269.5" y2="338.5" stroke-width="2.3"/>
<path d="M244,338.5 L250,335 M244,338.5 L250,342 M268,338.5 L262,335 M268,338.5 L262,342" stroke-width="1"/>
<line x1="331" y1="340.5" x2="359" y2="340.5" stroke-width="1"/>
<line x1="333" y1="340.5" x2="339" y2="340.5" stroke-width="2.3"/>
<line x1="352" y1="340.5" x2="358.5" y2="340.5" stroke-width="2.3"/>
<path d="M334,340.5 L340,337 M334,340.5 L340,344 M357,340.5 L351,337 M357,340.5 L351,344" stroke-width="1"/>
</g>
</svg>

<div class="a" style="left:165px;top:32px;font-size:35px;line-height:40px;color:#3563dd;transform:scaleX(0.95);transform-origin:0 0;">Bruk av åpen EDI</div>

<div class="a t" style="left:11.0px;top:140px;">EDI-aktør</div>
<div class="a t" style="left:26.0px;top:221px;">Bruker</div>
<div class="a t" style="left:151.0px;top:162px;">Internt</div>
<div class="a t" style="left:151.0px;top:178px;">datasystem</div>
<div class="a t" style="left:151.0px;top:215px;">Trekker ut og</div>
<div class="a t" style="left:151.0px;top:231px;">laster inn data</div>
<div class="a t" style="left:11.0px;top:277px;">Teknologisk</div>
<div class="a t" style="left:11.0px;top:293px;">tjeneste-</div>
<div class="a t" style="left:11.0px;top:309px;">perspektiv</div>
<div class="a t" style="left:86.5px;top:259px;">Automatisert rolleutøver</div>
<div class="a t" style="left:93.0px;top:289px;">Utvekslings- og</div>
<div class="a t" style="left:93.0px;top:305px;">sikkerhetstjenester</div>
<div class="a t" style="left:95.7px;top:332px;">Nett-tjenester</div>
<div class="a t" style="left:531.0px;top:137px;">EDI-aktør</div>
<div class="a t" style="left:535.0px;top:231px;">Bruker</div>
<div class="a t" style="left:371.0px;top:168px;">Internt</div>
<div class="a t" style="left:371.0px;top:184px;">datasystem</div>
<div class="a t" style="left:371.0px;top:210px;">Trekker ut og</div>
<div class="a t" style="left:371.0px;top:226px;">laster inn data</div>
<div class="a t" style="left:520.0px;top:280px;">Teknologisk</div>
<div class="a t" style="left:520.0px;top:296px;">tjeneste-</div>
<div class="a t" style="left:520.0px;top:312px;">perspektiv</div>
<div class="a t" style="left:371.0px;top:260px;">Automatisert rolleutøver</div>
<div class="a t" style="left:377.6px;top:293px;">Utvekslings- og</div>
<div class="a t" style="left:377.6px;top:309px;">sikkerhetstjenester</div>
<div class="a t" style="left:377.6px;top:338px;">Nett-tjenester</div>
<div class="a t" style="left:279.0px;top:331px;">Datanett</div>

<div class="a" style="left:264px;top:428px;font-size:12px;line-height:14px;color:#404040;">Slide 18</div>
<div class="a" style="left:479px;top:414px;font-family:'Liberation Serif',serif;font-weight:bold;font-size:13px;line-height:14px;color:#1e88e0;transform:scaleX(0.905);transform-origin:0 0;">Norsk Regnesentral</div>
<div class="a" style="left:428px;top:429px;font-family:'Liberation Serif',serif;font-weight:bold;font-size:13px;line-height:14px;color:#1e88e0;transform:scaleX(0.89);transform-origin:0 0;">Norwegian Computing Center</div>
<div class="a" style="left:30px;top:407.5px;font-family:'Liberation Serif',serif;font-weight:bold;font-size:25.5px;line-height:28px;color:#1e88e0;">NR</div>
</body></html>
